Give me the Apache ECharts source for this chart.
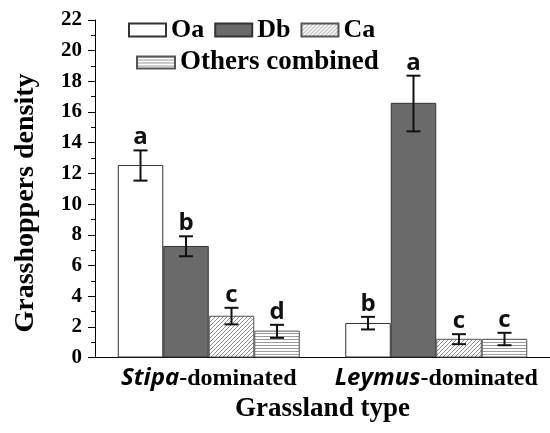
<!DOCTYPE html>
<html>
<head>
<meta charset="utf-8">
<script src="https://cdn.jsdelivr.net/npm/echarts@6/dist/echarts.min.js"></script>
<style>html,body{margin:0;padding:0;background:#fff;}#c{width:550px;height:433px;}</style>
</head>
<body>
<div id="c"></div>
<script>
// ---- data ----
var categories = ['Stipa', 'Leymus'];
var seriesNames = ['Oa', 'Db', 'Ca', 'Others combined'];
var oa = [12.55, 2.25];
var db = [7.27, 16.6];
var ca = [2.72, 1.22];
var others = [1.75, 1.22];
var oaErr = [[11.53, 13.5], [1.83, 2.65]];
var dbErr = [[6.6, 7.9], [14.74, 18.37]];
var caErr = [[2.16, 3.24], [0.87, 1.52]];
var othersErr = [[1.28, 2.13], [0.8, 1.61]];
var oaLetters = ['a', 'b'];
var dbLetters = ['b', 'a'];
var caLetters = ['c', 'c'];
var othersLetters = ['d', 'c'];
var yTicks = [0, 22, 2];

var SERIF = '"Liberation Serif", "Times New Roman", serif';
var SANS = '"Open Sans", "Noto Sans", sans-serif';

function makePattern(kind) {
  var c = document.createElement('canvas');
  var ctx;
  if (kind === 'diag') {
    c.width = 4; c.height = 4;
    ctx = c.getContext('2d');
    ctx.fillStyle = '#fff'; ctx.fillRect(0, 0, 4, 4);
    ctx.strokeStyle = '#8c8c8c'; ctx.lineWidth = 1;
    ctx.beginPath();
    ctx.moveTo(-1, 5); ctx.lineTo(5, -1);
    ctx.moveTo(-3, 3); ctx.lineTo(3, -3);
    ctx.moveTo(1, 7); ctx.lineTo(7, 1);
    ctx.stroke();
  } else {
    c.width = 4; c.height = 3;
    ctx = c.getContext('2d');
    ctx.fillStyle = '#fff'; ctx.fillRect(0, 0, 4, 3);
    ctx.fillStyle = '#9a9a9a'; ctx.fillRect(0, 0, 4, 1);
  }
  return { image: c, repeat: 'repeat' };
}

var chart = echarts.init(document.getElementById('c'), null, { renderer: 'canvas' });

var barStyles = [
  { color: '#ffffff', borderColor: '#333', borderWidth: 1 },
  { color: '#6a6a6a', borderColor: '#333', borderWidth: 1 },
  { color: makePattern('diag'), borderColor: '#555', borderWidth: 1 },
  { color: makePattern('horiz'), borderColor: '#555', borderWidth: 1 }
];
var values = [oa, db, ca, others];
var errs = [oaErr, dbErr, caErr, othersErr];
var letters = [oaLetters, dbLetters, caLetters, othersLetters];

var series = [];
values.forEach(function (v, i) {
  series.push({
    name: seriesNames[i], type: 'bar', data: v, barWidth: '20%', barGap: '0%',
    itemStyle: barStyles[i], emphasis: { disabled: true }, z: 2
  });
});
errs.forEach(function (e, si) {
  series.push({
    type: 'custom', z: 5,
    data: e.map(function (d, i) { return [i, d[0], d[1]]; }),
    renderItem: function (params, api) {
      var cat = api.value(0);
      var bandW = api.size([1, 0])[0];
      var barW = bandW * 0.2;
      var cx = api.coord([cat, 0])[0] + (si - 1.5) * barW;
      var yLo = api.coord([cat, api.value(1)])[1];
      var yHi = api.coord([cat, api.value(2)])[1];
      var hw = 7;
      var st = { stroke: '#111', lineWidth: 2 };
      return {
        type: 'group', children: [
          { type: 'line', shape: { x1: cx, y1: yLo, x2: cx, y2: yHi }, style: st },
          { type: 'line', shape: { x1: cx - hw, y1: yHi, x2: cx + hw, y2: yHi }, style: st },
          { type: 'line', shape: { x1: cx - hw, y1: yLo, x2: cx + hw, y2: yLo }, style: st },
          { type: 'text', x: cx, y: yHi - 1, style: {
              text: letters[si][params.dataIndex], fill: '#111',
              font: 'bold 24px ' + SANS, textAlign: 'center', textVerticalAlign: 'bottom' } }
        ]
      };
    }
  });
});

chart.setOption({
  animation: false,
  backgroundColor: '#fff',
  grid: { left: 95, right: -5, top: 20, bottom: 75.5, containLabel: false },
  legend: [
    { data: ['Oa', 'Db', 'Ca'], icon: 'rect', left: 123, top: 12, itemWidth: 37, itemHeight: 13, itemGap: 10,
      selectedMode: false, textStyle: { fontFamily: SERIF, fontWeight: 'bold', fontSize: 26, color: '#000' } },
    { data: ['Others combined'], icon: 'rect', left: 131, top: 44, itemWidth: 38, itemHeight: 12,
      selectedMode: false, textStyle: { fontFamily: SERIF, fontWeight: 'bold', fontSize: 27, color: '#000' } }
  ],
  xAxis: {
    type: 'category', data: categories,
    name: 'Grassland type', nameLocation: 'middle', nameGap: 38,
    nameTextStyle: { fontFamily: SERIF, fontWeight: 'bold', fontSize: 27, color: '#000' },
    axisLine: { lineStyle: { color: '#000', width: 1 } },
    axisTick: { alignWithLabel: true, length: 7, lineStyle: { color: '#000' } },
    axisLabel: {
      margin: 9,
      formatter: function (v) { return '{i|' + v + '}{n|-dominated}'; },
      rich: {
        i: { fontFamily: SANS, fontStyle: 'italic', fontWeight: 'bold', fontSize: 24, color: '#000' },
        n: { fontFamily: SERIF, fontWeight: 'bold', fontSize: 24, color: '#000' }
      }
    }
  },
  yAxis: {
    type: 'value', min: yTicks[0], max: yTicks[1], interval: yTicks[2],
    axisLine: { show: true, lineStyle: { color: '#000', width: 1 } },
    axisTick: { show: true, length: 7, lineStyle: { color: '#000' } },
    minorTick: { show: true, splitNumber: 2, length: 4, lineStyle: { color: '#000' } },
    splitLine: { show: false },
    axisLabel: { margin: 13, fontFamily: SERIF, fontWeight: 'bold', fontSize: 21, color: '#000' }
  },
  graphic: [{
    type: 'text', x: 26, y: 203, rotation: Math.PI / 2,
    style: { text: 'Grasshoppers density', font: 'bold 28px ' + SERIF, fill: '#000',
      textAlign: 'center', textVerticalAlign: 'middle' }
  }],
  series: series
});
</script>
</body>
</html>
